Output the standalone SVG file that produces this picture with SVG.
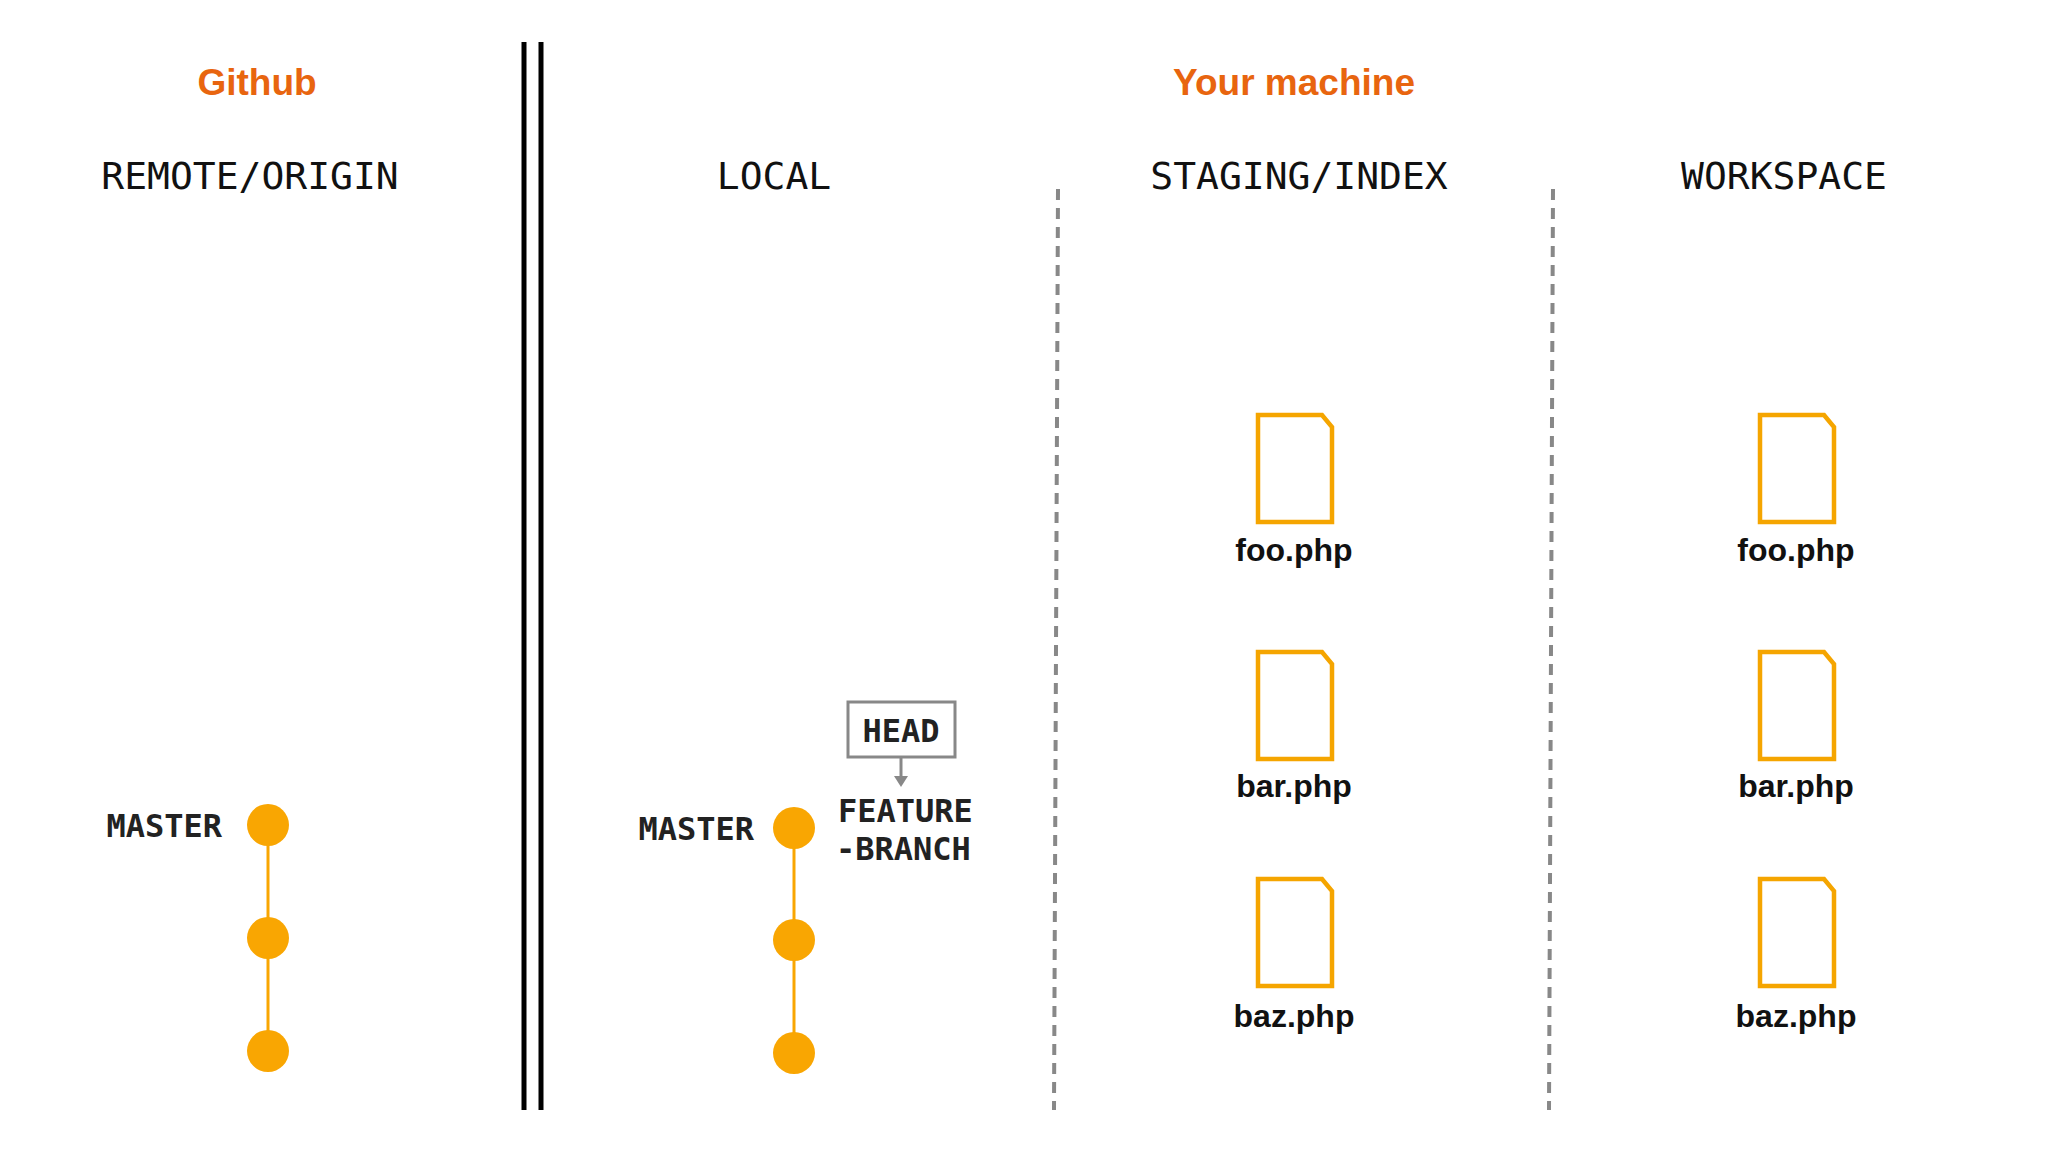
<svg xmlns="http://www.w3.org/2000/svg" width="2048" height="1152" viewBox="0 0 2048 1152">
<style>
.title{font-family:"Liberation Sans",Arial,sans-serif;font-weight:bold;font-size:37px;fill:#e8650f;text-anchor:middle}
.col{font-family:"DejaVu Sans Mono","Liberation Mono",monospace;font-size:38px;fill:#111;text-anchor:middle}
.lbl{font-family:"DejaVu Sans Mono","Liberation Mono",monospace;font-weight:bold;font-size:32px;fill:#222}
.fname{font-family:"Liberation Sans",Arial,sans-serif;font-weight:bold;font-size:32px;fill:#111;text-anchor:middle}
.file{fill:none;stroke:#f5a500;stroke-width:4.5;stroke-linejoin:miter}
.commit{fill:#f9a602}
.branch{stroke:#f9a602;stroke-width:3}
.dash{stroke:#888;stroke-width:4;stroke-dasharray:11 8}
</style>
<defs>
<path id="doc" d="M0,0 H64 L74,12 V107 H0 Z"/>
</defs>
<rect width="2048" height="1152" fill="#fff"/>
<text class="title" x="257" y="95">Github</text>
<text class="title" x="1294" y="95">Your machine</text>
<text class="col" x="250" y="189">REMOTE/ORIGIN</text>
<text class="col" x="774" y="189">LOCAL</text>
<text class="col" x="1299" y="189">STAGING/INDEX</text>
<text class="col" x="1784" y="189">WORKSPACE</text>
<g id="dividers">
<line x1="524" y1="42" x2="524" y2="1110" stroke="#000" stroke-width="5"/>
<line x1="541" y1="42" x2="541" y2="1110" stroke="#000" stroke-width="5"/>
<line class="dash" x1="1058" y1="189" x2="1054" y2="1110"/>
<line class="dash" x1="1553" y1="189" x2="1549" y2="1110"/>
</g>
<g id="connectors">
<line class="branch" x1="268" y1="825" x2="268" y2="1051"/>
<line class="branch" x1="794" y1="828" x2="794" y2="1053"/>
<line x1="901" y1="757" x2="901" y2="778" stroke="#888" stroke-width="3"/>
<path d="M894,776 L908,776 L901,787 Z" fill="#888"/>
</g>
<g id="remote">
<circle class="commit" cx="268" cy="825" r="21"/>
<circle class="commit" cx="268" cy="938" r="21"/>
<circle class="commit" cx="268" cy="1051" r="21"/>
<text class="lbl" x="222" y="837" text-anchor="end">MASTER</text>
</g>
<g id="local">
<circle class="commit" cx="794" cy="828" r="21"/>
<circle class="commit" cx="794" cy="940" r="21"/>
<circle class="commit" cx="794" cy="1053" r="21"/>
<text class="lbl" x="754" y="840" text-anchor="end">MASTER</text>
<text class="lbl" x="838" y="822">FEATURE</text>
<text class="lbl" x="836" y="860">-BRANCH</text>
</g>
<g id="head">
<rect x="848" y="702" width="107" height="55" fill="#fff" stroke="#888" stroke-width="3"/>
<text class="lbl" x="901" y="742" text-anchor="middle">HEAD</text>
</g>
<g id="staging-foo"><use href="#doc" class="file" x="1258" y="415"/><text class="fname" x="1294" y="561">foo.php</text></g>
<g id="staging-bar"><use href="#doc" class="file" x="1258" y="652"/><text class="fname" x="1294" y="797">bar.php</text></g>
<g id="staging-baz"><use href="#doc" class="file" x="1258" y="879"/><text class="fname" x="1294" y="1027">baz.php</text></g>
<g id="ws-foo"><use href="#doc" class="file" x="1760" y="415"/><text class="fname" x="1796" y="561">foo.php</text></g>
<g id="ws-bar"><use href="#doc" class="file" x="1760" y="652"/><text class="fname" x="1796" y="797">bar.php</text></g>
<g id="ws-baz"><use href="#doc" class="file" x="1760" y="879"/><text class="fname" x="1796" y="1027">baz.php</text></g>
</svg>
